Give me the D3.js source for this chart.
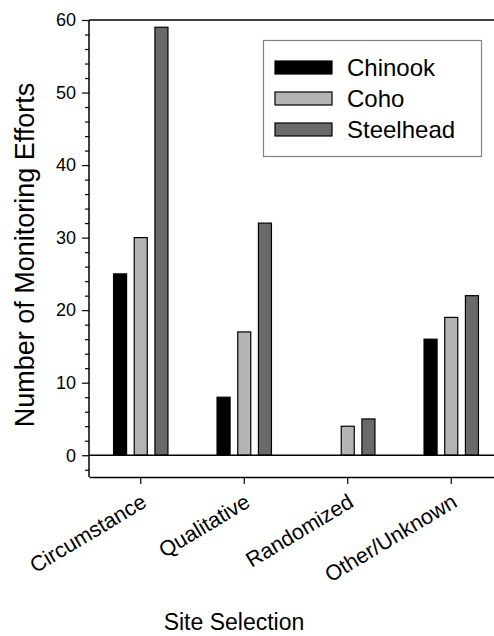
<!DOCTYPE html>
<html>
<head>
<meta charset="utf-8">
<script src="https://cdn.jsdelivr.net/npm/d3@7"></script>
<style>
  body { margin: 0; background: #fff; }
  svg { display: block; font-family: "Liberation Sans", Arial, sans-serif; }
</style>
</head>
<body>
<svg id="chart" width="494" height="636"></svg>
<script>
// data
var categories = ["Circumstance", "Qualitative", "Randomized", "Other/Unknown"];
var species = ["Chinook", "Coho", "Steelhead"];
var chinook = [25, 8, 0, 16];
var coho = [30, 17, 4, 19];
var steelhead = [59, 32, 5, 22];
var yMajorTicks = [0, 10, 20, 30, 40, 50, 60];
var colors = ["#000000", "#b4b4b4", "#6a6a6a"];

var seriesValues = [chinook, coho, steelhead];
var table = [];
categories.forEach(function (c, i) {
    species.forEach(function (s, j) {
        table.push({ cat: c, sp: s, value: seriesValues[j][i] });
    });
});

var svg = d3.select("#chart");
var pLeft = 89, pTop = 20, pBottom = 477, pRight = 503;

var x0 = d3.scaleBand().domain(categories).range([pLeft, pRight]).padding(0);
var x1 = d3.scaleBand().domain(species).range([-27.2, 27.2]).paddingInner(0.37);
var y = d3.scaleLinear().domain([-3, 60]).range([pBottom, pTop]);
var color = d3.scaleOrdinal().domain(species).range(colors);

// bars
svg.append("g").selectAll("rect")
    .data(table.filter(function (d) { return d.value > 0; }))
    .enter()
    .append("rect")
    .attr("x", function (d) { return x0(d.cat) + x0.bandwidth() / 2 + x1(d.sp); })
    .attr("width", x1.bandwidth())
    .attr("y", function (d) { return y(d.value); })
    .attr("height", function (d) { return y(0) - y(d.value); })
    .attr("fill", function (d) { return color(d.sp); })
    .attr("stroke", "#000")
    .attr("stroke-width", 1.2);

// frame: left and top lines
svg.append("line").attr("x1", pLeft).attr("x2", pLeft).attr("y1", pTop).attr("y2", pBottom)
    .attr("stroke", "#000").attr("stroke-width", 1.5);
svg.append("line").attr("x1", pLeft).attr("x2", pRight).attr("y1", pTop).attr("y2", pTop)
    .attr("stroke", "#000").attr("stroke-width", 1.5);

// zero line
svg.append("line").attr("x1", pLeft).attr("x2", pRight).attr("y1", y(0)).attr("y2", y(0))
    .attr("stroke", "#000").attr("stroke-width", 1.5);

// y axis with minor ticks
var minor = d3.range(-2, 60, 2).filter(function (v) { return v % 10 != 0; });
svg.append("g")
    .attr("transform", "translate(" + pLeft + ",0)")
    .call(d3.axisLeft(y).tickValues(minor).tickSize(4).tickFormat(""))
    .call(function (g) { g.select(".domain").remove(); g.selectAll("line").attr("stroke-width", 1.2); });
var yAxis = svg.append("g")
    .attr("transform", "translate(" + pLeft + ",0)")
    .call(d3.axisLeft(y).tickValues(yMajorTicks).tickSize(7).tickPadding(6))
    .call(function (g) { g.select(".domain").remove(); g.selectAll("line").attr("stroke-width", 1.2); });
yAxis.selectAll("text")
    .style("font-family", "Liberation Sans, Arial, sans-serif")
    .style("font-size", "18px")
    .attr("fill", "#000");

// x axis (drawn at the bottom of the frame)
svg.append("g")
    .attr("transform", "translate(0," + pBottom + ")")
    .call(d3.axisBottom(x0).tickSize(7).tickSizeOuter(0).tickFormat(""))
    .call(function (g) { g.select(".domain").attr("stroke-width", 1.5); g.selectAll("line").attr("stroke-width", 1.2); });

svg.append("g").selectAll("text")
    .data(categories)
    .enter()
    .append("text")
    .attr("transform", function (d) {
        return "translate(" + (x0(d) + x0.bandwidth() / 2 - 1) + "," + (pBottom + 15) + ") rotate(-31)";
    })
    .attr("text-anchor", "end")
    .attr("dy", "0.75em")
    .style("font-size", "21.5px")
    .text(function (d) { return d; });

// axis titles
svg.append("text")
    .attr("transform", "translate(34,255) rotate(-90)")
    .attr("text-anchor", "middle")
    .style("font-size", "27px")
    .text("Number of Monitoring Efforts");
svg.append("text")
    .attr("x", 234).attr("y", 630)
    .attr("text-anchor", "middle")
    .style("font-size", "23px")
    .text("Site Selection");

// legend
var legend = svg.append("g");
legend.append("rect")
    .attr("x", 263.5).attr("y", 40.5).attr("width", 218).attr("height", 116)
    .attr("fill", "#fff").attr("stroke", "#808080").attr("stroke-width", 1.2);
var item = legend.selectAll(".item")
    .data(species)
    .enter()
    .append("g")
    .attr("class", "item")
    .attr("transform", function (d, i) { return "translate(275," + (61 + i * 31) + ")"; });
item.append("rect")
    .attr("width", 57).attr("height", 13)
    .attr("fill", function (d) { return color(d); })
    .attr("stroke", "#000").attr("stroke-width", 1.2);
item.append("text")
    .attr("x", 72).attr("y", 15)
    .style("font-size", "24px")
    .text(function (d) { return d; });
</script>
</body>
</html>
